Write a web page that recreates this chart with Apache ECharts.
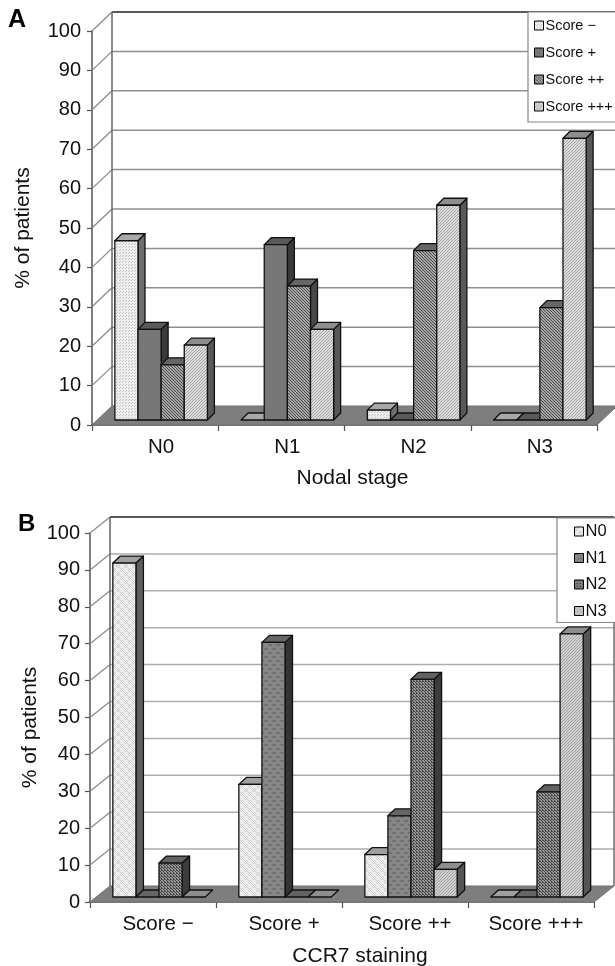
<!DOCTYPE html>
<html><head><meta charset="utf-8">
<style>html,body{margin:0;padding:0;background:#fff}#c{width:615px;height:966px}</style>
<script src="https://cdn.jsdelivr.net/npm/echarts@6/dist/echarts.min.js"></script>
</head><body><div id="c"></div>
<script>
const yTicks = [0,10,20,30,40,50,60,70,80,90,100];
const stagesA = ['N0','N1','N2','N3'];
const scoreMinusA = [45.5,0,2.5,0];
const scorePlusA = [23,44.5,0,0];
const scorePlusPlusA = [14,34,43,28.5];
const scoreTripleA = [19,23,54.5,71.5];
const scoresB = ['Score \u2212','Score +','Score ++','Score +++'];
const n0B = [90.5,30.5,11.5,0];
const n1B = [0,69,22,0];
const n2B = [9.2,0,59,28.5];
const n3B = [0,0,7.5,71.3];
const namesA = ['Score \u2212','Score +','Score ++','Score +++'];
const namesB = ['N0','N1','N2','N3'];

function pat(size,bg,fg,cells){
  const c=document.createElement('canvas');c.width=c.height=size;
  const g=c.getContext('2d');g.fillStyle=bg;g.fillRect(0,0,size,size);g.fillStyle=fg;
  cells.forEach(p=>g.fillRect(p[0],p[1],1,1));
  return {image:c,repeat:'repeat'};
}
const styles = {
  dots:{f:pat(3,'#eeeeee','#c4c4c4',[[0,0],[2,1]]),t:'#a8a8a8',s:'#6e6e6e'},
  solid:{f:'#777777',t:'#5a5a5a',s:'#3a3a3a'},
  cross:{f:pat(3,'#a6a6a6','#4a4a4a',[[0,0],[1,1],[2,2]]),t:'#666666',s:'#484848'},
  hatch:{f:pat(3,'#dcdcdc','#a4a4a4',[[2,0],[1,1],[0,2]]),t:'#8e8e8e',s:'#585858'},
  check:{f:pat(8,'#ececec','#cdcdcd',[[0,0],[2,0],[1,1],[3,1],[0,2],[2,2],[1,3],[3,3],[4,4],[6,4],[5,5],[7,5],[4,6],[6,6],[5,7],[7,7]]),t:'#a0a0a0',s:'#5e5e5e'},
  darkCheck:{f:pat(8,'#868686','#727272',[[0,0],[1,0],[2,0],[3,0],[0,1],[1,1],[2,1],[3,1],[4,4],[5,4],[6,4],[7,4],[4,5],[5,5],[6,5],[7,5]]),t:'#666666',s:'#333333'},
  cross2:{f:pat(3,'#969696','#464646',[[0,0],[1,1],[2,2],[2,0]]),t:'#626262',s:'#3c3c3c'},
  hatch2:{f:pat(3,'#d0d0d0','#a0a0a0',[[2,0],[1,1],[0,2]]),t:'#8e8e8e',s:'#555555'}
};
const gA={left:92,top:31,width:505,height:394,dx:20,dy:-19,lift:5,shift:6,rightDx:20,d:7,e:7,grid:'#8f8f8f',gw:1.5};
const gB={left:90,top:533,width:504,height:369,dx:20,dy:-16,lift:5,shift:6,rightDx:20,d:7.5,e:7,grid:'#adadad',gw:1.5};

function wallSeries(i,g,closed){
  return {type:'custom',xAxisIndex:i,yAxisIndex:i,z:1,silent:true,clip:false,
    data:yTicks.map(v=>[0,v]),encode:{x:0,y:1},
    renderItem(params,api){
      const v=api.value(1),p=api.coord([0,v]),r=params.coordSys;
      const lx=r.x,rx=r.x+r.width,y=p[1];
      const ch=[];
      const line=(a,b,c,d,col,w)=>ch.push({type:'line',shape:{x1:a,y1:b,x2:c,y2:d},style:{stroke:col,lineWidth:w}});
      const bx=lx+g.dx,by=y+g.dy,ex=rx+g.rightDx;
      if(v===0){
        ch.push({type:'polygon',shape:{points:[[lx,y],[bx,by],[ex,by],[rx,y]]},style:{fill:'#7e7e7e',stroke:'#707070',lineWidth:1}});
      }else{
        line(bx,by,ex,by,v===100?'#222':g.grid,v===100?1.5:g.gw);
        line(lx,y,bx,by,'#8a8a8a',1.3);
      }
      if(v===100){
        line(bx,by,bx,r.y+r.height+g.dy,'#666',1.5);
        if(closed) line(ex,by,ex,r.y+r.height+g.dy,'#555',1.3);
      }
      return {type:'group',children:ch};
    }};
}
function barSeries(i,g,k,name,vals,st){
  return {type:'custom',name,xAxisIndex:i,yAxisIndex:i,z:3+k,silent:true,clip:false,
    itemStyle:{color:st.f,borderColor:'#000',borderWidth:1},
    data:vals.map((v,j)=>[j,v]),encode:{x:0,y:1},
    renderItem(params,api){
      const top=api.coord([api.value(0),api.value(1)]),base=api.coord([api.value(0),0]);
      const w=api.size([1,0])[0]*0.1832,d=g.d,e=g.e;
      const x0=base[0]+g.shift-2*w+k*w,x1=x0+w,yb=base[1]-g.lift,yt=yb-(base[1]-top[1]);
      const bs={stroke:'#111',lineWidth:1.3,lineJoin:'round'};
      const ch=[];
      if(yb-yt>0.5){
        ch.push({type:'polygon',shape:{points:[[x1,yb],[x1+d,yb-e],[x1+d,yt-e],[x1,yt]]},style:Object.assign({fill:st.s},bs)});
      }
      ch.push({type:'polygon',shape:{points:[[x0,yt],[x0+d,yt-e],[x1+d,yt-e],[x1,yt]]},style:Object.assign({fill:st.t},bs)});
      if(yb-yt>0.5){
        ch.push({type:'rect',shape:{x:x0,y:yt,width:w,height:yb-yt},style:Object.assign({fill:st.f},bs)});
      }
      return {type:'group',children:ch};
    }};
}
const font='"Liberation Sans",Arial,sans-serif';
const axisCol='#555';
function xAxis(i,cats,name,gap,padL,lblPad){
  return {type:'category',gridIndex:i,data:cats,name,nameLocation:'middle',nameGap:gap,nameMoveOverlap:false,
    nameTextStyle:{fontFamily:font,fontSize:21,color:'#111',padding:[0,0,0,padL]},
    axisLine:{lineStyle:{color:axisCol,width:1.5}},axisTick:{show:true,length:6,lineStyle:{color:axisCol,width:1.2}},
    axisLabel:{fontFamily:font,fontSize:20.5,color:'#111',margin:12,padding:[0,0,0,lblPad],interval:0},splitLine:{show:false}};
}
function yAxis(i,gap,padR,margin){
  return {type:'value',gridIndex:i,min:0,max:100,interval:10,name:'% of patients',nameLocation:'middle',nameGap:gap,nameMoveOverlap:false,
    nameTextStyle:{fontFamily:font,fontSize:21,color:'#111',padding:[0,padR,0,0]},
    axisLine:{show:true,lineStyle:{color:axisCol,width:1.5}},axisTick:{show:true,length:5,lineStyle:{color:axisCol,width:1.2}},
    axisLabel:{fontFamily:font,fontSize:20,color:'#111',margin},splitLine:{show:false}};
}
function legend(names,left,top,gap,fs,pad){
  return {orient:'vertical',left,top,data:names,icon:'rect',itemWidth:9,itemHeight:9,itemGap:gap,
    backgroundColor:'#fff',borderColor:'#888',borderWidth:1.2,borderRadius:0,padding:pad,selectedMode:false,
    textStyle:{fontFamily:font,fontSize:fs,color:'#111',padding:[0,0,0,-3]},
    itemStyle:{borderColor:'#000',borderWidth:1}};
}
const stA=[styles.dots,styles.solid,styles.cross,styles.hatch];
const stB=[styles.check,styles.darkCheck,styles.cross2,styles.hatch2];
const seriesA=[scoreMinusA,scorePlusA,scorePlusPlusA,scoreTripleA];
const seriesB=[n0B,n1B,n2B,n3B];
const chart=echarts.init(document.getElementById('c'),null,{renderer:'canvas'});
chart.setOption({
  backgroundColor:'#fff',animation:false,
  grid:[
    {left:gA.left,top:gA.top,width:gA.width,height:gA.height,outerBoundsMode:'none'},
    {left:gB.left,top:gB.top,width:gB.width,height:gB.height,outerBoundsMode:'none'}
  ],
  xAxis:[xAxis(0,stagesA,'Nodal stage',42.5,16,12),xAxis(1,scoresB,'CCR7 staining',44,36,10)],
  yAxis:[yAxis(0,58,0,11),yAxis(1,49,20,10)],
  legend:[legend(namesA,528,12,12,14.5,[6,3,8,6]),legend(namesB,557,518,9.5,16.5,[5,9,3,17])],
  graphic:[
    {type:'text',left:8,top:8,style:{text:'A',font:'bold 25px '+font,fill:'#000'}},
    {type:'text',left:18,top:512,style:{text:'B',font:'bold 24px '+font,fill:'#000'}}
  ],
  series:[
    wallSeries(0,gA,false),wallSeries(1,gB,true),
    ...seriesA.map((v,k)=>barSeries(0,gA,k,namesA[k],v,stA[k])),
    ...seriesB.map((v,k)=>barSeries(1,gB,k,namesB[k],v,stB[k]))
  ]
});
</script></body></html>
